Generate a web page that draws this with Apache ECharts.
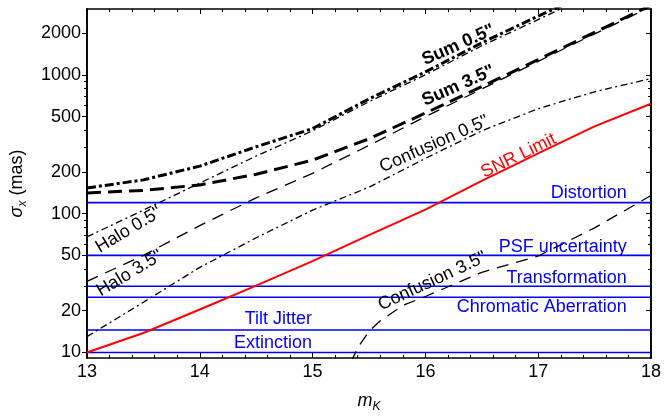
<!DOCTYPE html>
<html><head><meta charset="utf-8">
<script src="https://cdn.jsdelivr.net/npm/echarts@6/dist/echarts.min.js"></script>
<style>html,body{margin:0;padding:0;background:#fff}#c{width:664px;height:418px}</style>
</head><body><div id="c"></div>
<script>
// ---- data ----
const mag = [13, 13.5, 14, 14.5, 15, 15.5, 16, 16.5, 17, 17.5, 18];
const snrLimit = [10, 13.8, 20.4, 30.3, 45.5, 70, 107, 172, 272, 425, 619];
const sum05 = [153, 175, 220, 303, 410, 670, 1050, 1700, 2650, 4000, null];
const sum35 = [141, 147, 161, 192, 243, 346, 530, 822, 1287, 2022, 3167];
const halo05 = [68, 106, 166, 260, 395, 640, 1000, 1620, 2500, 3900, null];
const halo35 = [32.5, 50, 82, 130, 195, 310, 500, 790, 1250, 1970, 3100];
const conf05 = [13, 23, 41, 67, 106, 155, 250, 395, 570, 755, 940];
const conf35Mag = [15.34, 15.4, 15.5, 15.6, 15.8, 16, 16.5, 17, 17.5, 18];
const conf35 = [8.5, 10.8, 14.2, 16.9, 21.8, 25.3, 37.8, 49.5, 79, 135];
const floorNames = ['Distortion', 'PSF uncertainty', 'Transformation', 'Chromatic Aberration', 'Tilt Jitter', 'Extinction'];
const floorValues = [120, 50, 30, 25, 14.5, 10];
const yMajorTicks = [10, 20, 50, 100, 200, 500, 1000, 2000];
const yMinorTicks = [30, 40, 60, 70, 80, 90, 300, 400, 600, 700, 800, 900];

// ---- chart ----
const font = 'Liberation Sans, Arial, Helvetica, sans-serif';
const pair = (xs, ys) => xs.map((x, i) => [x, ys[i]]);
const BLACK = '#000', BLUE = '#0000ff', RED = '#ff0000';

const yBase = {
  type: 'log', logBase: 10, min: 9.12, max: 2979,
  splitLine: { show: false },
  axisLine: { show: true, onZero: false, lineStyle: { color: BLACK, width: 1.6 } }
};
const xBase = {
  type: 'value', min: 13, max: 18, interval: 1,
  splitLine: { show: false },
  axisLine: { show: true, onZero: false, lineStyle: { color: BLACK, width: 1.6 } },
  axisTick: { show: true, inside: true, length: 5, lineStyle: { color: BLACK, width: 1 } },
  minorTick: { show: true, splitNumber: 5, length: 3, lineStyle: { color: BLACK, width: 1 } }
};

function lbl(text, x, y, rot, color, bold) {
  return {
    coord: [x, y], value: 0,
    label: {
      show: true, position: 'inside', formatter: text, rotate: rot,
      color: color, fontSize: 18, fontFamily: font, fontWeight: bold ? 'bold' : 'normal'
    }
  };
}
function blueLbl(text, x, y) {
  return {
    coord: [x, y], value: 0,
    label: {
      show: true, position: 'left', distance: 0, formatter: text,
      color: BLUE, fontSize: 18, fontFamily: font
    }
  };
}
const mpBase = { symbol: 'circle', symbolSize: 1, itemStyle: { color: 'rgba(0,0,0,0)' }, silent: true, animation: false };

function lineSeries(name, data, color, width, type, marks) {
  const s = {
    name, type: 'line', data, xAxisIndex: 0, yAxisIndex: 0,
    showSymbol: false, symbol: 'none', smooth: false, clip: true,
    lineStyle: { color, width, type, cap: 'butt' }, z: 3
  };
  if (marks) s.markPoint = Object.assign({}, mpBase, { data: marks });
  return s;
}

const blueLabelPos = [
  [17.79, 141], [17.79, 57.7], [17.79, 34.4], [17.79, 21.3], [15.0, 17.3], [15.0, 11.6]
];

const series = [];
floorValues.forEach((v, i) => {
  series.push(lineSeries(floorNames[i], [[13, v], [18, v]], BLUE, 1.6, 'solid',
    [blueLbl(floorNames[i], blueLabelPos[i][0], blueLabelPos[i][1])]));
});
series.push(lineSeries('SNR Limit', pair(mag, snrLimit), RED, 2, 'solid',
  [lbl('SNR Limit', 16.826, 261, 26, RED, false)]));
series.push(lineSeries('Confusion 3.5"', pair(conf35Mag, conf35), BLACK, 1.3, [12, 8],
  [lbl('Confusion 3.5"', 16.061, 32.6, 25, BLACK, false)]));
series.push(lineSeries('Confusion 0.5"', pair(mag, conf05), BLACK, 1.3, [7, 3.5, 2, 3.5],
  [lbl('Confusion 0.5"', 16.078, 317, 24, BLACK, false)]));
series.push(lineSeries('Halo 3.5"', pair(mag, halo35), BLACK, 1.3, [12, 8],
  [lbl('Halo 3.5"', 13.378, 37.1, 31, BLACK, false)]));
series.push(lineSeries('Halo 0.5"', pair(mag, halo05), BLACK, 1.3, [7, 3.5, 2, 3.5],
  [lbl('Halo 0.5"', 13.37, 76.4, 31, BLACK, false)]));
series.push(lineSeries('Sum 3.5"', pair(mag, sum35), BLACK, 3, [14, 7],
  [lbl('Sum 3.5"', 16.293, 834, 24, BLACK, true)]));
series.push(lineSeries('Sum 0.5"', pair(mag, sum05), BLACK, 3, [9, 3, 3, 3],
  [lbl('Sum 0.5"', 16.293, 1641, 24, BLACK, true)]));

const chart = echarts.init(document.getElementById('c'), null, { renderer: 'canvas' });
chart.setOption({
  animation: false,
  backgroundColor: '#fff',
  grid: { left: 72, right: 10.5, top: 9, bottom: 50, containLabel: false },
  xAxis: [
    Object.assign({}, xBase, {
      position: 'bottom',
      axisLabel: { show: true, fontSize: 18, fontFamily: font, color: BLACK, margin: 5 },
      name: '{m|m}{k|K}', nameLocation: 'middle', nameGap: 31,
      nameTextStyle: {
        color: BLACK, fontFamily: font,
        rich: {
          m: { fontStyle: 'italic', fontSize: 18, fontFamily: font, color: BLACK, lineHeight: 24 },
          k: { fontStyle: 'italic', fontSize: 12, fontFamily: font, color: BLACK, lineHeight: 12, verticalAlign: 'bottom' }
        }
      }
    }),
    Object.assign({}, xBase, { position: 'top', axisLabel: { show: false } })
  ],
  yAxis: [
    Object.assign({}, yBase, {
      position: 'left',
      axisLabel: { show: true, customValues: yMajorTicks, formatter: v => String(Math.round(v)),
        fontSize: 18, fontFamily: font, color: BLACK, margin: 6 },
      axisTick: { show: true, customValues: yMajorTicks, inside: false, length: 5, lineStyle: { color: BLACK, width: 1 } },
      name: '{s|σ}{x|x} (mas)', nameLocation: 'middle', nameGap: 58, nameRotate: 90,
      nameTextStyle: {
        color: BLACK, fontFamily: font, fontSize: 18,
        rich: {
          s: { fontStyle: 'italic', fontSize: 18, fontFamily: font, color: BLACK, lineHeight: 24 },
          x: { fontStyle: 'italic', fontSize: 12, fontFamily: font, color: BLACK, lineHeight: 12, verticalAlign: 'bottom' }
        }
      }
    }),
    Object.assign({}, yBase, {
      position: 'left', axisLabel: { show: false },
      axisTick: { show: true, customValues: yMinorTicks, inside: false, length: 3, lineStyle: { color: BLACK, width: 1 } }
    }),
    Object.assign({}, yBase, {
      position: 'right', axisLabel: { show: false },
      axisTick: { show: true, customValues: yMajorTicks, inside: true, length: 5, lineStyle: { color: BLACK, width: 1 } }
    }),
    Object.assign({}, yBase, {
      position: 'right', axisLabel: { show: false },
      axisTick: { show: true, customValues: yMinorTicks, inside: true, length: 3, lineStyle: { color: BLACK, width: 1 } }
    })
  ],
  series
});
</script>
</body></html>
